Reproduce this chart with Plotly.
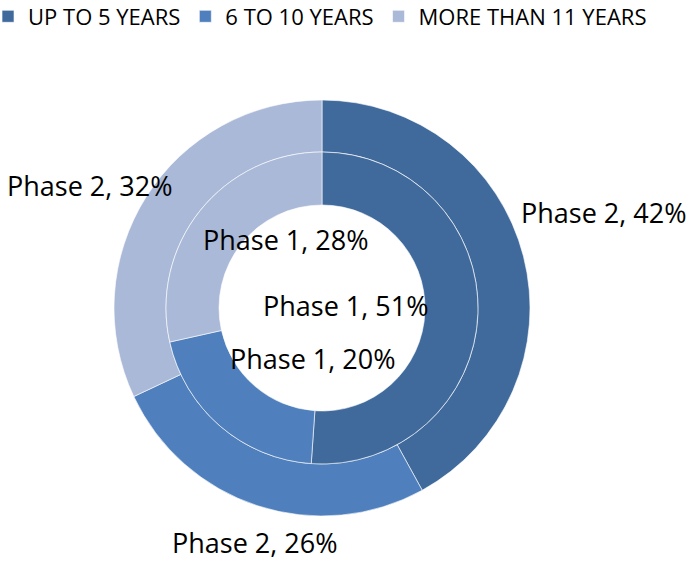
import plotly.graph_objects as go

categories = ["UP TO 5 YEARS", "6 TO 10 YEARS", "MORE THAN 11 YEARS"]
phase1_values = [51.1, 20.4, 28.5]
phase2_values = [42, 26, 32]
colors = ["#406A9C", "#4F80BD", "#AAB9D7"]

W, H = 688, 561
cx, cy = 322, 308          # pie centre in pixels
r_outer, r_mid, r_hole = 208, 156, 103

def dom(r):
    return dict(x=[(cx - r) / W, (cx + r) / W],
                y=[1 - (cy + r) / H, 1 - (cy - r) / H])

fig = go.Figure()
fig.add_trace(go.Pie(
    labels=categories, values=phase2_values, name="Phase 2",
    domain=dom(r_outer), hole=r_mid / r_outer,
    sort=False, direction="clockwise", rotation=0,
    marker=dict(colors=colors, line=dict(color="white", width=0.6)),
    textinfo="none", showlegend=True,
))
fig.add_trace(go.Pie(
    labels=categories, values=phase1_values, name="Phase 1",
    domain=dom(r_mid), hole=r_hole / r_mid,
    sort=False, direction="clockwise", rotation=0,
    marker=dict(colors=colors, line=dict(color="white", width=0.6)),
    textinfo="none", showlegend=False,
))

# data labels (pixel positions)
label_pos = {
    ("Phase 2", 0): (603, 212),
    ("Phase 2", 1): (254, 542),
    ("Phase 2", 2): (89, 185),
    ("Phase 1", 0): (345, 305),
    ("Phase 1", 1): (312, 358),
    ("Phase 1", 2): (285, 240),
}
for (phase, i), (px, py) in label_pos.items():
    vals = phase1_values if phase == "Phase 1" else phase2_values
    fig.add_annotation(
        text=f"{phase}, {round(vals[i])}%", x=px / W, y=1 - py / H,
        xref="paper", yref="paper", xanchor="center", yanchor="middle",
        showarrow=False, font=dict(family="Open Sans", size=27, color="black"),
    )

fig.update_layout(
    width=W, height=H,
    margin=dict(l=0, r=0, t=0, b=0, autoexpand=False),
    paper_bgcolor="white", plot_bgcolor="white",
    font=dict(family="Open Sans", color="black"),
    legend=dict(orientation="h", x=-0.0174, y=1.008, xanchor="left", yanchor="top",
                font=dict(family="Open Sans", size=22, color="black"),
                itemwidth=30, tracegroupgap=0, bgcolor="rgba(0,0,0,0)"),
)
fig.write_html("out.html", config={"displayModeBar": False},
               post_script="document.body.style.margin='0';")
